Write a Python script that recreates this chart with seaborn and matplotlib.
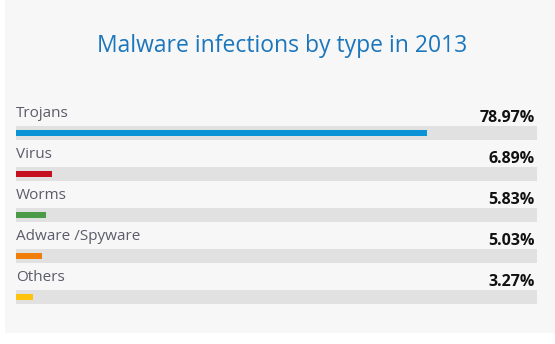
import matplotlib
matplotlib.use("Agg")
import matplotlib.pyplot as plt
import seaborn as sns
import pandas as pd
from matplotlib.patches import Rectangle

categories = ["Trojans", "Virus", "Worms", "Adware /Spyware", "Others"]
values = [78.97, 6.89, 5.83, 5.03, 3.27]
value_labels = ["78.97%", "6.89%", "5.83%", "5.03%", "3.27%"]
colors = ["#0a94d6", "#c4101f", "#4a9a48", "#f07f0a", "#ffc20e"]
title = "Malware infections by type in 2013"

sns.set_theme(style="white")
plt.rcParams["font.family"] = ["Open Sans", "DejaVu Sans"]

W, H = 555, 344
fig = plt.figure(figsize=(W / 100, H / 100), dpi=100)
fig.patch.set_facecolor("#f7f7f7")

# white margins left and bottom
fig.patches.append(Rectangle((0, 0), 5 / W, 1, transform=fig.transFigure,
                             facecolor="white", edgecolor="none", zorder=0))
fig.patches.append(Rectangle((0, 0), 1, 11 / H, transform=fig.transFigure,
                             facecolor="white", edgecolor="none", zorder=0))

top_px, bot_px = 133 - 0.9 * 41, 297 + 0.6 * 41
ax = fig.add_axes([16 / W, 1 - bot_px / H, 521 / W, (bot_px - top_px) / H])
ax.set_facecolor("none")

df = pd.DataFrame({"cat": categories, "val": values, "track": [100] * len(values)})

sns.barplot(data=df, y="cat", x="track", color="#e1e1e1", width=0.34,
            orient="h", ax=ax, saturation=1, linewidth=0, edgecolor="none")
sns.barplot(data=df, y="cat", x="val", hue="cat", palette=colors, width=0.15,
            orient="h", ax=ax, legend=False, saturation=1, linewidth=0,
            edgecolor="none")

ax.set_xlim(0, 100)
ax.set_ylim(4.6, -0.9)
ax.set_axis_off()

for i, (c, lab) in enumerate(zip(categories, value_labels)):
    ax.text(0.0, i - 0.38, c, ha="left", va="baseline", fontsize=11,
            color="#5b5b6b")
    ax.text(99.6, i - 0.27, lab, ha="right", va="baseline", fontsize=11.5,
            fontweight="bold", color="#111111")

fig.text(282 / W, 1 - 52 / H, title, ha="center", va="baseline",
         fontsize=16.5, color="#1b76bc")

fig.savefig("out.png", dpi=100, facecolor=fig.get_facecolor())
